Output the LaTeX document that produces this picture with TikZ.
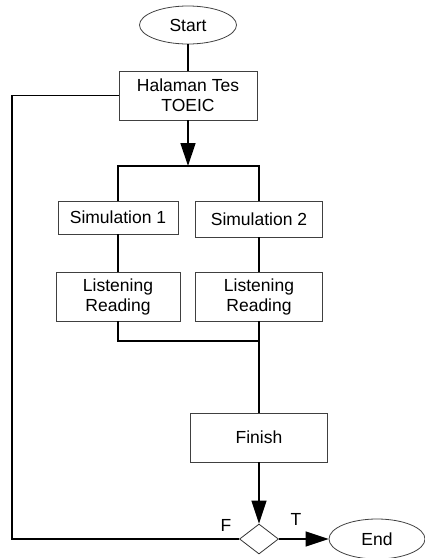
\documentclass[tikz,border=0pt]{standalone}
\usepackage{fontspec}
\setmainfont{Liberation Sans}
\usetikzlibrary{shapes.geometric,arrows.meta}
\newcommand{\diafont}{\fontsize{17.5}{20}\selectfont}
\tikzset{
  box/.style={draw=black!75, line width=0.8pt, rectangle, align=center, inner sep=0pt, font=\diafont},
  term/.style={draw=black!75, line width=0.8pt, ellipse, inner sep=0pt, font=\diafont},
  decision/.style={draw=black!80, line width=0.8pt, diamond, inner sep=0pt, aspect=1.3},
  conn/.style={line width=1.3pt, line join=miter},
  arrow/.style={conn, -{Triangle[length=23pt,width=15pt]}},
  lbl/.style={font=\diafont, inner sep=0pt},
}
\begin{document}
\begin{tikzpicture}[x=1pt,y=-1pt]
\useasboundingbox (0,0) rectangle (425,558);
\node[term, minimum width=97pt, minimum height=38pt] (start) at (188,25) {Start};
\node[box, minimum width=138pt, minimum height=49pt] (hal) at (188,95.5) {Halaman Tes\\TOEIC};
\node[box, minimum width=120pt, minimum height=33pt] (s1) at (118,217.5) {Simulation 1};
\node[box, minimum width=127pt, minimum height=36pt] (s2) at (259,219) {Simulation 2};
\node[box, minimum width=124pt, minimum height=49pt] (l1) at (118,296.5) {Listening\\Reading};
\node[box, minimum width=127pt, minimum height=49pt] (l2) at (259,296.5) {Listening\\Reading};
\node[box, minimum width=137pt, minimum height=49pt] (fin) at (259,437.5) {Finish};
\node[decision, minimum width=39pt, minimum height=30pt] (dia) at (259,539) {};
\node[term, minimum width=96pt, minimum height=40pt] (end) at (377,539) {End};
\node[lbl] (F) at (226,525.5) {F};
\node[lbl] (T) at (296,519) {T};
\coordinate (forkR) at (259,166);
\coordinate (joinR) at (259,341);
\coordinate (loopB) at (12,539);
\draw[conn] (start) -- (hal);
\draw[arrow] (hal.south) -- (hal.south |- forkR);
\draw[conn] (s1.north) |- (forkR) -- (s2.north);
\draw[conn] (s1) -- (l1);
\draw[conn] (s2) -- (l2);
\draw[conn] (l1.south) |- (joinR);
\draw[conn] (l2.south) -- (fin.north);
\draw[arrow] (fin.south) -- (dia.north);
\draw[arrow] (dia.east) -- (end.west);
\draw[conn] (dia.west) -- (loopB) |- (hal.west);
\end{tikzpicture}
\end{document}
